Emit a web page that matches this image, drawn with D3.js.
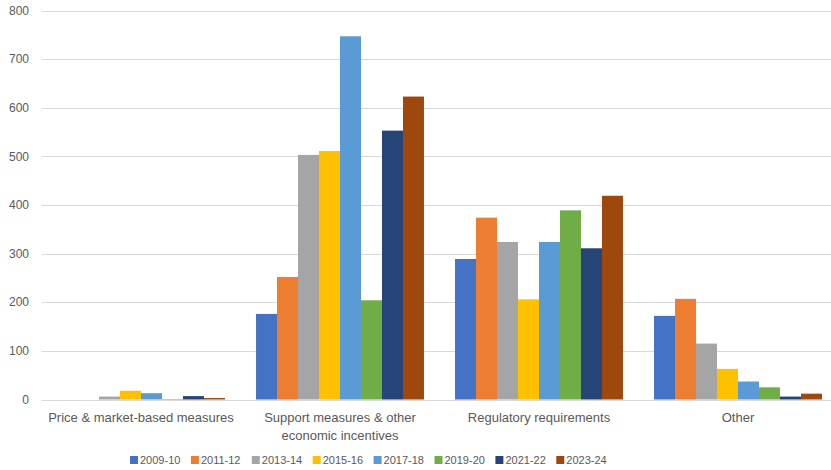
<!DOCTYPE html>
<html>
<head>
<meta charset="utf-8">
<script src="https://cdn.jsdelivr.net/npm/d3@7"></script>
<style>
  body { margin: 0; background: #fff; }
  svg text { font-family: "Liberation Sans", Arial, sans-serif; fill: #595959; }
</style>
</head>
<body>
<svg id="chart" width="831" height="470"></svg>
<script>
// Categories and series
const categories = [
    ['Price & market-based measures'],
    ['Support measures & other', 'economic incentives'],
    ['Regulatory requirements'],
    ['Other']
];
const seriesNames = ['2009-10', '2011-12', '2013-14', '2015-16', '2017-18', '2019-20', '2021-22', '2023-24'];
const seriesColors = ['#4472C4', '#ED7D31', '#A5A5A5', '#FFC000', '#5B9BD5', '#70AD47', '#264478', '#9E480E'];

// values per series, one per category
const v2009 = [0, 176, 289, 172];
const v2011 = [0, 252, 374, 207];
const v2013 = [6, 503, 324, 115];
const v2015 = [18, 511, 206, 63];
const v2017 = [13, 747, 324, 37];
const v2019 = [1, 204, 389, 25];
const v2021 = [7, 553, 311, 6];
const v2023 = [3, 623, 419, 12];
const seriesValues = [v2009, v2011, v2013, v2015, v2017, v2019, v2021, v2023];

const yTicks = [0, 100, 200, 300, 400, 500, 600, 700, 800];

let margin = {left: 41.5, right: 837.5, top: 10.5, bottom: 399.5};

let svg = d3.select('#chart');

let x0 = d3.scaleBand()
    .domain(d3.range(categories.length))
    .range([margin.left, margin.right])
    .paddingInner(0.156)
    .paddingOuter(0.078);

let x1 = d3.scaleBand()
    .domain(d3.range(seriesNames.length))
    .range([0, x0.bandwidth()]);

let y = d3.scaleLinear()
    .domain([0, 800])
    .range([margin.bottom, margin.top]);

// gridlines
svg.append('g')
    .selectAll('line')
    .data(yTicks)
    .enter().append('line')
    .attr('x1', margin.left)
    .attr('x2', margin.right)
    .attr('y1', d => Math.round(y(d)) + 0.5)
    .attr('y2', d => Math.round(y(d)) + 0.5)
    .attr('stroke', '#D9D9D9')
    .attr('stroke-width', 1);

// y tick labels
svg.append('g')
    .selectAll('text')
    .data(yTicks)
    .enter().append('text')
    .attr('x', 29)
    .attr('y', d => y(d))
    .attr('dy', '0.35em')
    .attr('text-anchor', 'end')
    .style('font-size', '12px')
    .text(d => d);

// bars
let groups = svg.append('g')
    .selectAll('g')
    .data(seriesValues)
    .enter().append('g')
    .attr('fill', (d, i) => seriesColors[i]);

groups.each(function (vals, si) {
    d3.select(this).selectAll('rect')
        .data(vals)
        .enter().append('rect')
        .attr('x', (d, ci) => x0(ci) + x1(si))
        .attr('width', x1.bandwidth())
        .attr('y', d => y(d))
        .attr('height', d => y(0) - y(d));
});

// category labels
let catLabels = svg.append('g')
    .selectAll('text')
    .data(categories)
    .enter().append('text')
    .attr('x', (d, i) => x0(i) + x0.bandwidth() / 2)
    .attr('y', 422)
    .attr('text-anchor', 'middle')
    .style('font-size', '13px');

catLabels.selectAll('tspan')
    .data(d => d)
    .enter().append('tspan')
    .attr('x', function () { return d3.select(this.parentNode).attr('x'); })
    .attr('dy', (d, i) => i === 0 ? 0 : 18)
    .text(d => d);

// legend
let legend = svg.append('g')
    .selectAll('g')
    .data(seriesNames)
    .enter().append('g')
    .attr('transform', (d, i) => 'translate(' + (130 + i * 60.9) + ',456)');

legend.append('rect')
    .attr('width', 8)
    .attr('height', 8)
    .attr('fill', (d, i) => seriesColors[i]);

legend.append('text')
    .attr('x', 10)
    .attr('y', 4)
    .attr('dy', '0.35em')
    .style('font-size', '11px')
    .text(d => d);
</script>
</body>
</html>
